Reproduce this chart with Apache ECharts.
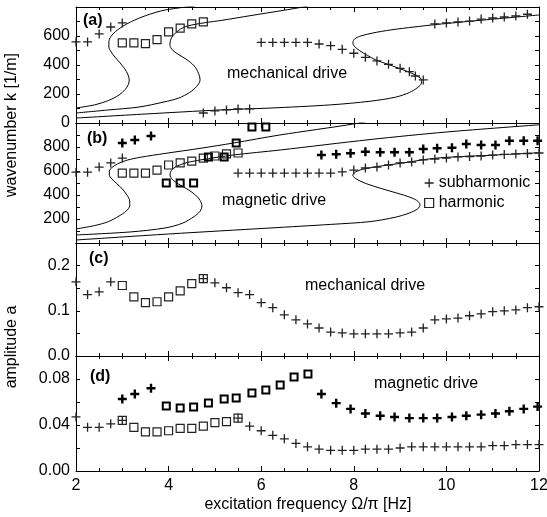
<!DOCTYPE html>
<html><head><meta charset="utf-8">
<script src="https://cdn.jsdelivr.net/npm/echarts@6/dist/echarts.min.js"></script>
<style>html,body{margin:0;padding:0;background:#fff}#c{width:547px;height:517px}</style>
</head><body><div id="c"></div>
<script>
// ================= DATA =================
// panel (a): mechanical drive, wavenumber
const subA_x = [2,2.25,2.5,2.75,3, 4.75,5,5.25,5.5,5.75, 6,6.25,6.5,6.75,7,7.25,7.5,7.75,8,8.25,8.5,8.75,9,9.2,9.33,9.5, 9.75,10,10.25,10.5,10.75,11,11.25,11.5,11.75];
const subA_y = [559,559,614,662,690, 69,83,90,97,97, 556,556,556,556,556,545,533,508,481,453,428,405,377,354,324,297, 683,690,697,703,717,724,731,738,750];
const harmA_x = [3,3.25,3.5,3.75,4,4.25,4.5,4.75];
const harmA_y = [552,552,548,575,628,655,683,697];
const curveA1_x = [2,2.4,2.7,2.93,3.06,3.13,3.15,3.12,3.05,2.95,2.84,2.76,2.71,2.71,2.75,2.85,3.0,3.2,3.5,3.92,4.57];
const curveA1_y = [103,125,155,193,230,265,297,335,375,415,455,490,524,560,595,630,665,700,740,779,807];
const curveA2_x = [2,2.7,3.36,3.9,4.22,4.45,4.6,4.68,4.65,4.55,4.38,4.2,4.08,4.03,4.04,4.1,4.22,4.4,4.79,5.15,5.76,6.5,7.0];
const curveA2_y = [69,90,110,145,172,210,250,297,340,395,440,475,505,535,570,605,640,668,692,708,740,778,805];
const curveA3_x = [2,3.5,5.11,6.19,7.5,8.35,8.9,9.2,9.38,9.46,9.46,9.38,9.2,8.96,8.72,8.48,8.3,8.12,8.01,7.98,8.02,8.15,8.4,8.8,9.3,9.8,10.8,12];
const curveA3_y = [34,62,90,103,125,150,178,210,245,275,300,322,350,379,407,434,465,500,530,555,580,600,620,642,662,680,710,745];

// panel (b): magnetic drive, wavenumber
const subB_x = [2,2.25,2.5,2.75,3, 5.5,5.75,6,6.25,6.5,6.75,7,7.25,7.5,7.75,8,8.25,8.5,8.75,9,9.25,9.5,9.75,10,10.25,10.5,10.75,11,11.25,11.5,11.75,12];
const subB_y = [590,590,633,667,708, 583,583,583,583,583,583,583,583,583,592,608,625,633,650,667,675,692,700,708,717,721,725,733,738,742,746,750];
const harmB_x = [3,3.25,3.5,3.75,4,4.25,4.5,4.75,5,5.25,5.5];
const harmB_y = [583,583,583,608,650,667,683,708,725,742,750];
const boldSubLeft_x = [3.0,3.27,3.62];
const boldSubRight_x = [7.3,7.62,7.93,8.25,8.57,8.88,9.2,9.5,9.8,10.12,10.43,10.75,11.06,11.36,11.67,11.97];
const boldSubB_yLeft = [833,858,892];
const boldSubB_yRight = [733,739,748,761,756,756,756,783,789,794,825,817,817,852,852,852];
const boldHarm_x = [3.95,4.25,4.54,4.86,5.2,5.46,5.8,6.1,6.41,6.71,7.01];
const boldHarmB_y = [500,500,500,717,717,833,967,967];
const curveB1_x = [2,2.4,2.7,2.93,3.08,3.16,3.16,3.1,3.0,2.88,2.77,2.72,2.72,2.78,2.9,3.1,3.4,3.9,4.7,5.4,6.4,8.0,8.5];
const curveB1_y = [117,145,178,225,265,310,350,400,450,495,535,565,600,630,660,690,715,745,790,833,900,992,1030];
const curveB2_x = [2,3.17,3.92,4.3,4.55,4.68,4.72,4.68,4.58,4.42,4.22,4.08,4.03,4.06,4.18,4.4,4.7,5.39,6.41,8.35,10,12];
const curveB2_y = [67,92,125,165,220,265,310,355,400,445,490,530,567,605,640,670,693,733,775,862,925,985];
const curveB3_x = [2,4,6.19,7.5,8.35,8.9,9.2,9.38,9.43,9.36,9.15,8.85,8.5,8.2,8.03,7.98,8.03,8.2,8.6,9.06,9.8,11,12];
const curveB3_y = [25,75,125,155,178,215,250,285,320,355,390,425,465,505,540,565,590,615,642,667,708,732,752];

// panel (c): mechanical drive, amplitude
const subC_x = [2,2.25,2.5,2.75, 4.75,5,5.25,5.5,5.75,6,6.25,6.5,6.75,7,7.25,7.5,7.75,8,8.25,8.5,8.75,9,9.25,9.5,9.75,10,10.25,10.5,10.75,11,11.25,11.5,11.75,12];
const subC_y = [0.164,0.136,0.142,0.164, 0.171,0.162,0.151,0.14,0.136,0.118,0.107,0.091,0.08,0.071,0.062,0.053,0.051,0.049,0.049,0.049,0.049,0.051,0.053,0.062,0.08,0.082,0.084,0.089,0.093,0.098,0.1,0.102,0.107,0.109];
const harmC_x = [3,3.25,3.5,3.75,4,4.25,4.5,4.75];
const harmC_y = [0.156,0.131,0.118,0.12,0.131,0.144,0.16,0.171];

// panel (d): magnetic drive, amplitude
const subD_x = [2,2.25,2.5,2.75,3, 5.5,5.75,6,6.25,6.5,6.75,7,7.25,7.5,7.75,8,8.25,8.5,8.75,9,9.25,9.5,9.75,10,10.25,10.5,10.75,11,11.25,11.5,11.75,12];
const subD_y = [0.047,0.038,0.038,0.041,0.044, 0.046,0.039,0.035,0.031,0.028,0.024,0.021,0.019,0.018,0.018,0.018,0.019,0.019,0.019,0.02,0.021,0.021,0.021,0.021,0.021,0.021,0.021,0.022,0.022,0.023,0.023,0.023];
const harmD_x = [3,3.25,3.5,3.75,4,4.25,4.5,4.75,5,5.25,5.5];
const harmD_y = [0.044,0.038,0.034,0.034,0.035,0.037,0.037,0.039,0.042,0.043,0.046];
const boldSubD_yLeft = [0.0626,0.067,0.072];
const boldSubD_yRight = [0.067,0.059,0.054,0.050,0.048,0.047,0.046,0.046,0.046,0.047,0.048,0.049,0.050,0.052,0.054,0.056];
const boldHarmD_y = [0.0565,0.0548,0.0557,0.0591,0.0626,0.0635,0.0678,0.0704,0.0748,0.0817,0.0843];

// axis tick labels
const xTickLabels = ['2','4','6','8','10','12'];
const yLabelsA = ['0','200','400','600'];
const yLabelsB = ['200','400','600','800'];
const yLabelsC = ['0.0','0.1','0.2'];
const yLabelsD = ['0.00','0.04','0.08'];

// ================= CHART =================
const FONT = '"Liberation Sans", Arial, Helvetica, sans-serif';
const PLUS = 'path://M5,0L5,10M0,5L10,5';
const THIN = '#222';
const zip = (xs, ys) => ys.map((y, i) => [xs[i], y]);

const grids = [
  {left:76, right:8, top:7, height:116},
  {left:76, right:8, top:123, height:120},
  {left:76, right:8, top:243, height:113},
  {left:76, right:8, top:356, height:115}
].map(g => Object.assign({outerBoundsMode:'none', containLabel:false}, g));

const yDefs = [
  {min:0, max:800, interval:100, labels:yLabelsA},
  {min:0, max:1000, interval:100, labels:yLabelsB},
  {min:0, max:0.25, interval:0.05, labels:yLabelsC},
  {min:0, max:0.1, interval:0.02, labels:yLabelsD}
];

const axisLine = {show:true, onZero:false, lineStyle:{color:'#000', width:1}};
const xAxes = [], yAxes = [];
for (let i = 0; i < 4; i++) {
  const base = {
    type:'value', gridIndex:i, min:2, max:12, interval:2,
    axisLine, splitLine:{show:false},
    axisTick:{show:true, inside:true, length:5, lineStyle:{color:'#000'}},
    minorTick:{show:true, splitNumber:4, length:3, lineStyle:{color:'#000'}},
  };
  xAxes.push(Object.assign({}, base, {position:'bottom',
    axisLabel:{show:i===3, color:'#000', fontSize:16, fontFamily:FONT, margin:7,
      formatter: v => xTickLabels.includes(String(v)) ? String(v) : ''}}));
  xAxes.push(Object.assign({}, base, {position:'top', axisLabel:{show:false}}));
  const d = yDefs[i];
  const fmt = v => {
    const s = d.labels.find(l => Math.abs(parseFloat(l) - v) < 1e-9);
    return s === undefined ? '' : s;
  };
  const ybase = {
    type:'value', gridIndex:i, min:d.min, max:d.max, interval:d.interval,
    axisLine, splitLine:{show:false},
    axisTick:{show:true, inside:true, length:4, lineStyle:{color:'#000'}},
  };
  yAxes.push(Object.assign({}, ybase, {position:'left',
    axisLabel:{show:true, color:'#000', fontSize:16, fontFamily:FONT, margin:6, formatter:fmt}}));
  yAxes.push(Object.assign({}, ybase, {position:'right', axisLabel:{show:false}}));
}

const series = [];
function addCurve(gi, xs, ys) {
  series.push({type:'line', xAxisIndex:2*gi, yAxisIndex:2*gi, data:zip(xs, ys),
    symbol:'none', smooth:0.3, clip:true, silent:true, z:1,
    lineStyle:{color:'#000', width:1}});
}
const styles = {
  plusThin:{symbol:PLUS, symbolSize:9, itemStyle:{color:'rgba(0,0,0,0)', borderColor:THIN, borderWidth:1.3, opacity:1}},
  sqThin:{symbol:'rect', symbolSize:8, itemStyle:{color:'rgba(0,0,0,0)', borderColor:THIN, borderWidth:1.2, opacity:1}},
  plusBold:{symbol:PLUS, symbolSize:9, itemStyle:{color:'rgba(0,0,0,0)', borderColor:'#000', borderWidth:2.4, opacity:1}},
  sqBold:{symbol:'rect', symbolSize:7, itemStyle:{color:'rgba(0,0,0,0)', borderColor:'#000', borderWidth:2, opacity:1}}
};
function addPts(gi, name, xs, ys, kind) {
  series.push(Object.assign({type:'scatter', name, xAxisIndex:2*gi, yAxisIndex:2*gi,
    data:zip(xs, ys), clip:true, z:3}, styles[kind]));
}

// (a)
addCurve(0, curveA1_x, curveA1_y);
addCurve(0, curveA2_x, curveA2_y);
addCurve(0, curveA3_x, curveA3_y);
addPts(0, 'subharmonic', subA_x, subA_y, 'plusThin');
addPts(0, 'harmonic', harmA_x, harmA_y, 'sqThin');
// (b)
addCurve(1, curveB1_x, curveB1_y);
addCurve(1, curveB2_x, curveB2_y);
addCurve(1, curveB3_x, curveB3_y);
addPts(1, 'subharmonic', subB_x, subB_y, 'plusThin');
addPts(1, 'harmonic', harmB_x, harmB_y, 'sqThin');
addPts(1, 'subharmonic (strong)', boldSubLeft_x.concat(boldSubRight_x), boldSubB_yLeft.concat(boldSubB_yRight), 'plusBold');
addPts(1, 'harmonic (strong)', boldHarm_x, boldHarmB_y, 'sqBold');
// (c)
addPts(2, 'subharmonic', subC_x, subC_y, 'plusThin');
addPts(2, 'harmonic', harmC_x, harmC_y, 'sqThin');
// (d)
addPts(3, 'subharmonic', subD_x, subD_y, 'plusThin');
addPts(3, 'harmonic', harmD_x, harmD_y, 'sqThin');
addPts(3, 'subharmonic (strong)', boldSubLeft_x.concat(boldSubRight_x), boldSubD_yLeft.concat(boldSubD_yRight), 'plusBold');
addPts(3, 'harmonic (strong)', boldHarm_x, boldHarmD_y, 'sqBold');

function txt(x, y, text, opts) {
  return Object.assign({type:'text', x, y, silent:true, z:10,
    style:Object.assign({text, font:'16px ' + FONT, fill:'#000', align:'left', verticalAlign:'middle'}, (opts||{}).style)},
    (opts||{}).el);
}

const option = {
  animation:false,
  backgroundColor:'#fff',
  grid:grids,
  xAxis:xAxes,
  yAxis:yAxes,
  series,
  legend:{
    show:true, orient:'vertical', left:424, top:175, padding:0,
    itemWidth:9, itemHeight:9, itemGap:4, selectedMode:false,
    textStyle:{fontSize:16, fontFamily:FONT, color:'#000'},
    data:[
      {name:'subharmonic', icon:PLUS, itemStyle:{color:'rgba(0,0,0,0)', borderColor:THIN, borderWidth:1.3, opacity:1}},
      {name:'harmonic', icon:'rect', itemStyle:{color:'rgba(0,0,0,0)', borderColor:THIN, borderWidth:1.2, opacity:1}}
    ]
  },
  graphic:[
    txt(83, 21, '(a)', {style:{font:'bold 16px ' + FONT}}),
    txt(87, 139, '(b)', {style:{font:'bold 16px ' + FONT}}),
    txt(89, 259, '(c)', {style:{font:'bold 16px ' + FONT}}),
    txt(90, 377, '(d)', {style:{font:'bold 16px ' + FONT}}),
    txt(227, 74, 'mechanical drive'),
    txt(222, 201, 'magnetic drive'),
    txt(305, 286, 'mechanical drive'),
    txt(374, 384, 'magnetic drive'),
    txt(12, 125, 'wavenumber k [1/m]', {style:{align:'center'}, el:{rotation:Math.PI/2}}),
    txt(12, 347, 'amplitude a', {style:{align:'center'}, el:{rotation:Math.PI/2}}),
    txt(308, 505, 'excitation frequency \u03A9/\u03C0 [Hz]', {style:{align:'center'}})
  ]
};

const chart = echarts.init(document.getElementById('c'), null, {renderer:'canvas'});
chart.setOption(option);
</script>
</body></html>
